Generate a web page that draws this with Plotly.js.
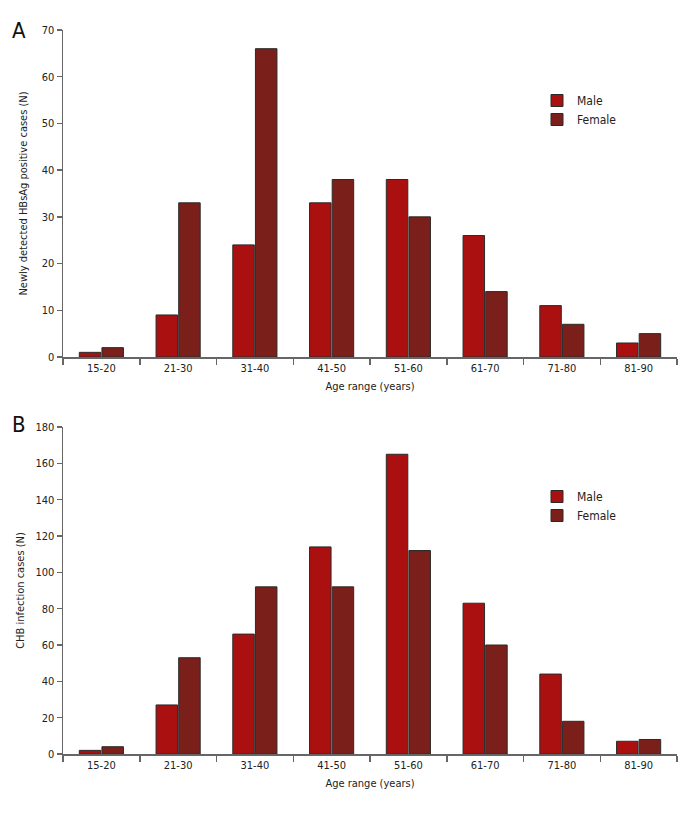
<!DOCTYPE html>
<html>
<head>
<meta charset="utf-8">
<script src="https://cdn.plot.ly/plotly-3.0.1.min.js"></script>
<style>
html,body{margin:0;padding:0;background:#fff}
#chart{width:696px;height:816px}
#chart text{font-stretch:condensed !important}
</style>
</head>
<body>
<div id="chart"></div>
<script>
var ageRanges = ["15-20","21-30","31-40","41-50","51-60","61-70","71-80","81-90"];
var newMale = [1, 9, 24, 33, 38, 26, 11, 3];
var newFemale = [2, 33, 66, 38, 30, 14, 7, 5];
var chbMale = [2, 27, 66, 114, 165, 83, 44, 7];
var chbFemale = [4, 53, 92, 92, 112, 60, 18, 8];

var FONT = "DejaVu Sans Condensed, DejaVu Sans, sans-serif";
var maleColor = "#ab1010";
var femaleColor = "#7a1f1a";
var outline = {color: "#2a2a2a", width: 1};

var traces = [
  {type: "bar", name: "Male", x: ageRanges, y: newMale, xaxis: "x", yaxis: "y",
   marker: {color: maleColor, line: outline}, legend: "legend"},
  {type: "bar", name: "Female", x: ageRanges, y: newFemale, xaxis: "x", yaxis: "y",
   marker: {color: femaleColor, line: outline}, legend: "legend"},
  {type: "bar", name: "Male", x: ageRanges, y: chbMale, xaxis: "x2", yaxis: "y2",
   marker: {color: maleColor, line: outline}, legend: "legend2"},
  {type: "bar", name: "Female", x: ageRanges, y: chbFemale, xaxis: "x2", yaxis: "y2",
   marker: {color: femaleColor, line: outline}, legend: "legend2"}
];

var axisCommon = {
  showgrid: false, zeroline: false, showline: true, linecolor: "#666", linewidth: 1.5,
  ticks: "outside", ticklen: 6, tickcolor: "#666", tickwidth: 1.5,
  tickfont: {family: FONT, size: 11, color: "#222"}
};
function xa(anchor) {
  return Object.assign({}, axisCommon, {
    domain: [63/696, 677/696], anchor: anchor, tickson: "boundaries", type: "category",
    title: {text: "Age range (years)", font: {family: FONT, size: 11, color: "#222"}, standoff: 8}
  });
}
var legendCommon = {
  font: {family: FONT, size: 12, color: "#222"}, bgcolor: "rgba(0,0,0,0)",
  xanchor: "left", yanchor: "top", tracegroupgap: 0, itemwidth: 30, traceorder: "normal"
};

var layout = {
  width: 696, height: 816,
  margin: {l: 0, r: 0, t: 0, b: 0},
  paper_bgcolor: "#fff", plot_bgcolor: "#fff",
  barmode: "group", bargap: 0.41, bargroupgap: 0.05,
  xaxis: xa("y"),
  xaxis2: xa("y2"),
  yaxis: Object.assign({}, axisCommon, {
    domain: [1 - 357/816, 1 - 30/816], anchor: "x", range: [0, 70], dtick: 10, ticklen: 5,
    title: {text: "Newly detected HBsAg positive cases (N)", font: {family: FONT, size: 11, color: "#222"}, standoff: 12}
  }),
  yaxis2: Object.assign({}, axisCommon, {
    domain: [1 - 754/816, 1 - 427/816], anchor: "x2", range: [0, 180], dtick: 20, ticklen: 5,
    title: {text: "CHB infection cases (N)", font: {family: FONT, size: 11, color: "#222"}, standoff: 8}
  }),
  legend: Object.assign({}, legendCommon, {x: 537/696, y: 1 - 86/816}),
  legend2: Object.assign({}, legendCommon, {x: 537/696, y: 1 - 482/816}),
  annotations: [
    {text: "A", xref: "paper", yref: "paper", x: 10/696, y: 1 - 16/816, xanchor: "left", yanchor: "top",
     showarrow: false, font: {family: FONT, size: 22, color: "#111"}},
    {text: "B", xref: "paper", yref: "paper", x: 10/696, y: 1 - 410/816, xanchor: "left", yanchor: "top",
     showarrow: false, font: {family: FONT, size: 22, color: "#111"}}
  ]
};

Plotly.newPlot("chart", traces, layout, {displayModeBar: false, staticPlot: true});
</script>
</body>
</html>
